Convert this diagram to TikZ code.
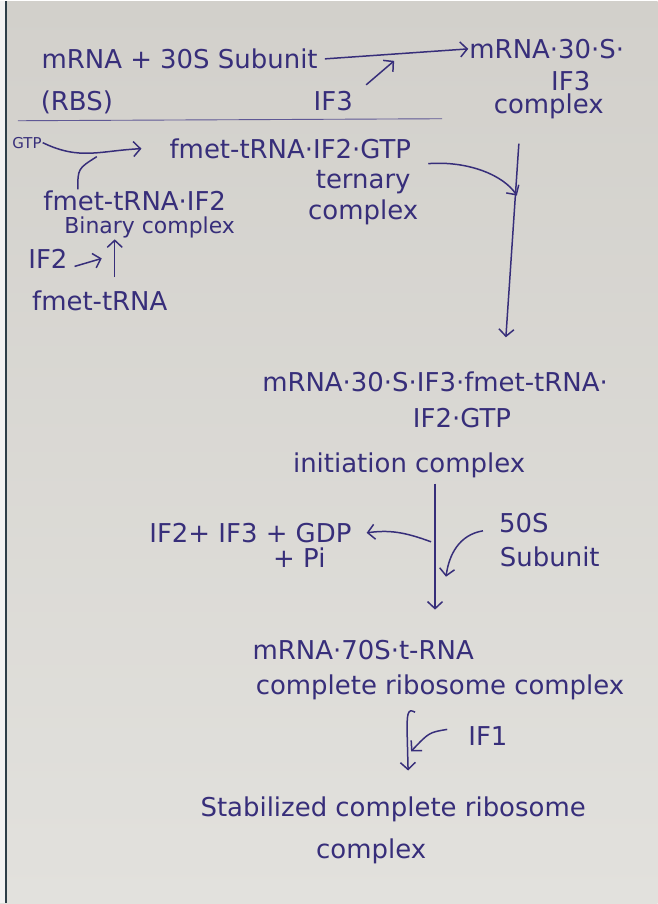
\documentclass[tikz,border=0pt]{standalone}
\usepackage{fontspec}
\setmainfont{DejaVu Sans}
\usetikzlibrary{arrows.meta}
\definecolor{ink}{RGB}{55,46,122}
\definecolor{papertop}{RGB}{210,208,203}
\definecolor{paperbot}{RGB}{226,225,221}
\definecolor{edge}{RGB}{45,62,72}
\tikzset{
  txt/.style={text=ink, font=\fontsize{26}{31}\selectfont, inner sep=1pt, align=center},
  mid/.style={txt, font=\fontsize{22}{26}\selectfont},
  small/.style={txt, font=\fontsize{15}{18}\selectfont},
  flow/.style={draw=ink, line width=1.5pt, -{Straight Barb[length=7pt,width=15pt]}},
  plain/.style={draw=ink, line width=1.5pt},
}
\begin{document}
\begin{tikzpicture}[x=1pt,y=-1pt]
    % paper
    \shade[top color=papertop, bottom color=paperbot] (0,0) rectangle (659,904);
    \fill[white!90!gray] (0,0) rectangle (5,904);
    \draw[edge, line width=2pt] (6.5,0) -- (6.5,904);
    \useasboundingbox (0,0) rectangle (659,904);

    % mRNA + 30S
    \node[txt] (sub30) at (180,58) {mRNA + 30S Subunit};
    \node[txt] (rbs) at (77,102) {(RBS)};
    \node[txt] (ifthree) at (334,100) {IF3};
    \node[txt] (cplx) at (548,48) {mRNA·30·S·};
    \node[txt] (cplxb) at (572,80) {IF3};
    \node[txt] (cplxc) at (550,106) {complex};
    \coordinate (ifthreetip) at (395,60);
    \draw[flow] ([xshift=6pt]sub30.east) -- (cplx.west);
    \draw[flow] ([xshift=33pt,yshift=5pt]ifthree.north) -- (ifthreetip);
    \draw[ink!80, line width=0.9pt] (18,120) -- (443,118);

    % ternary complex
    \node[small] (gtp) at (27,142) {GTP};
    \node[txt] (tern) at (291,148) {fmet-tRNA·IF2·GTP};
    \node[txt] (ternb) at (364,197) {ternary\\complex};
    \node[txt] (bin) at (135,200) {fmet-tRNA·IF2};
    \node[mid] (binb) at (150,227) {Binary complex};
    \node[txt] (iftwo) at (48,258) {IF2};
    \node[txt] (fmet) at (100,300) {fmet-tRNA};
    \coordinate (gtpjoin) at (97,156);
    \draw[flow] (gtp.east) .. controls (80,160) and (100,150) .. ([xshift=-27pt]tern.west);
    \draw[plain] ([xshift=-57pt]bin.north) .. controls (78,168) .. (gtpjoin);
    \draw[flow] ([xshift=15pt,yshift=12pt]fmet.north) -- ([xshift=-35pt]binb.south);
    \coordinate (iftwotip) at (102,258);
    \draw[flow] ([xshift=6pt,yshift=-8pt]iftwo.east) -- (iftwotip);

    % initiation complex
    \coordinate (vtop) at (520,143);
    \coordinate (vbot) at (507,337);
    \coordinate (ternjoin) at (518,195);
    \node[txt] (init) at (436,382) {mRNA·30·S·IF3·fmet-tRNA·};
    \node[txt] (initb) at (463,418) {IF2·GTP};
    \node[txt] (initc) at (410,465) {initiation complex};
    \draw[flow] (vtop) -- (vbot);
    \draw[flow] ([xshift=16pt,yshift=-15pt]tern.east) .. controls (470,160) and (505,175) .. (ternjoin);

    % 70S complex
    \node[txt] (rel) at (251,533) {IF2+ IF3 + GDP};
    \node[txt] (relb) at (300,558) {+ Pi};
    \node[txt] (sub50) at (525,523) {50S};
    \node[txt] (sub50b) at (551,557) {Subunit};
    \node[txt] (ribo) at (364,650) {mRNA·70S·t-RNA};
    \node[txt] (ribob) at (441,688) {complete ribosome complex};
    \draw[flow] ([xshift=26pt,yshift=-5pt]initc.south) -- ([xshift=72pt,yshift=29pt]ribo.north);
    \coordinate (relfrom) at (432,542);
    \draw[flow] (relfrom) .. controls (405,532) and (390,530) .. ([xshift=14pt]rel.east);
    \coordinate (subtip) at (447,577);
    \draw[flow] ([xshift=-15pt,yshift=-8pt]sub50.west) .. controls (460,535) and (450,555) .. (subtip);

    % stabilised complex
    \node[txt] (ifone) at (489,737) {IF1};
    \node[txt] (stab) at (394,810) {Stabilized complete ribosome};
    \node[txt] (stabb) at (372,852) {complex};
    \draw[flow] ([xshift=-25pt,yshift=-11pt]ribob.south) .. controls (408,708) and (408,716) .. (408,732) -- ([xshift=15pt,yshift=25pt]stab.north);
    \coordinate (ifonetip) at (412,752);
    \draw[flow] ([xshift=-20pt,yshift=7pt]ifone.west) .. controls (430,733) .. (ifonetip);
\end{tikzpicture}
\end{document}
